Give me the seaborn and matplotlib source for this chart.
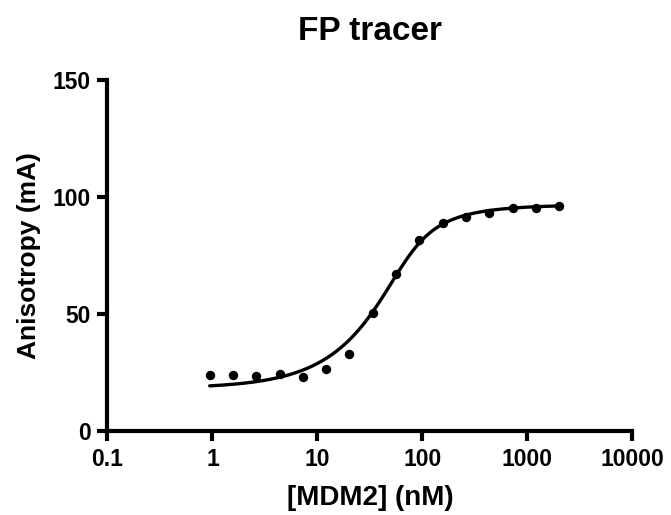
import numpy as np
import pandas as pd
import matplotlib
matplotlib.use("Agg")
import matplotlib.pyplot as plt
import seaborn as sns

# Data
conc_nM = [0.94, 1.57, 2.61, 4.35, 7.25, 12.1, 20.1, 33.6, 56.0, 93.3,
           155.5, 259.2, 432.0, 720.0, 1200.0, 2000.0]
anisotropy = [23.9, 23.9, 23.6, 24.4, 23.2, 26.4, 32.9, 50.3, 67.4, 81.9,
              89.0, 91.6, 93.3, 95.4, 95.4, 96.3]
# one-site binding fit with tracer depletion (quadratic model) parameters
fit_bottom = 18.3
fit_top = 96.8
fit_tracer_nM = 60.0
fit_kd_nM = 12.0
x_ticks = [0.1, 1, 10, 100, 1000, 10000]
x_tick_labels = ["0.1", "1", "10", "100", "1000", "10000"]
y_ticks = [0, 50, 100, 150]

sns.set_theme(style="ticks")
plt.rcParams['font.family'] = ['Liberation Sans', 'DejaVu Sans']
plt.rcParams['font.weight'] = 'bold'
plt.rcParams['text.color'] = 'black'
plt.rcParams['axes.labelcolor'] = 'black'
plt.rcParams['xtick.color'] = 'black'
plt.rcParams['ytick.color'] = 'black'

fig = plt.figure(figsize=(6.71, 5.15), dpi=100)
ax = fig.add_axes([0.1602, 0.1631, 0.7824, 0.6806])

df = pd.DataFrame({"conc": conc_nM, "aniso": anisotropy})
P = np.logspace(np.log10(conc_nM[0]), np.log10(conc_nM[-1]), 300)
L = fit_tracer_nM
S = L + P + fit_kd_nM
fb = (S - np.sqrt(S ** 2 - 4 * L * P)) / (2 * L)
ys = fit_bottom + (fit_top - fit_bottom) * fb
fit_df = pd.DataFrame({"conc": P, "aniso": ys})

sns.lineplot(data=fit_df, x="conc", y="aniso", color="black", linewidth=2.4, ax=ax)
sns.scatterplot(data=df, x="conc", y="aniso", color="black", s=46,
                edgecolor="black", linewidth=0, ax=ax, zorder=3)

ax.set_xscale("log")
ax.set_xlim(0.1, 10000)
ax.set_ylim(0, 150)
ax.set_xticks(x_ticks)
ax.set_xticklabels(x_tick_labels)
ax.minorticks_off()
ax.set_yticks(y_ticks)
for lab in ax.get_xticklabels() + ax.get_yticklabels():
    lab.set_fontweight("bold")
    lab.set_fontsize(16.5)
    lab.set_color("black")
ax.tick_params(axis="both", width=3, length=7, color="black")
ax.tick_params(axis="x", pad=5)
ax.tick_params(axis="y", pad=5)
sns.despine(ax=ax)
for s in ["left", "bottom"]:
    ax.spines[s].set_linewidth(3)
    ax.spines[s].set_color("black")
    ax.spines[s].set_capstyle("projecting")

ax.set_xlabel("[MDM2] (nM)", fontsize=20, fontweight="bold", labelpad=10, color="black")
ax.set_ylabel("Anisotropy (mA)", fontsize=19, fontweight="bold", labelpad=8, color="black")
ax.set_title("FP tracer", fontsize=24, fontweight="bold", pad=29, color="black")

fig.savefig("out.png", dpi=100)
